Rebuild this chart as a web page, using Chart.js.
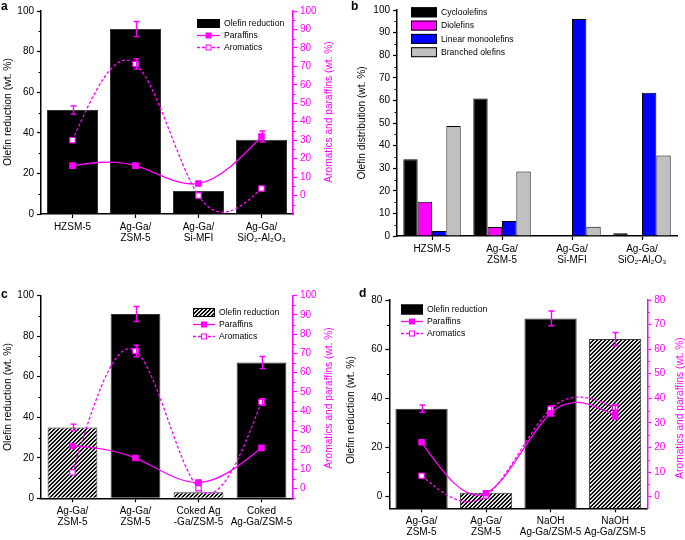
<!DOCTYPE html>
<html><head><meta charset="utf-8">
<script src="https://cdn.jsdelivr.net/npm/chart.js@4.4.0/dist/chart.umd.min.js"></script>
<style>html,body{margin:0;padding:0;background:#fff;overflow:hidden}
#wrap{position:relative;width:685px;height:540px}
canvas{position:absolute}</style></head>
<body><div id="wrap">
<canvas id="ca" width="342" height="270" style="left:0;top:0;width:342px;height:270px"></canvas>
<canvas id="cb" width="343" height="270" style="left:342px;top:0;width:343px;height:270px"></canvas>
<canvas id="cc" width="342" height="270" style="left:0;top:270px;width:342px;height:270px"></canvas>
<canvas id="cd" width="343" height="270" style="left:342px;top:270px;width:343px;height:270px"></canvas>
</div>
<script>
// ---------------- DATA ----------------
// Panel a
const catsA = [['HZSM-5'], ['Ag-Ga/', 'ZSM-5'], ['Ag-Ga/', 'Si-MFI'], ['Ag-Ga/', 'SiO₂-Al₂O₃']];
const olefinA = [51.2, 91.1, 11.3, 36.6];
const olefinErrA = [2, 3.7, 0, 0];
const paraffinsA = [16.2, 16.2, 6.5, 32];
const paraffinsErrA = [0, 0, 0, 3];
const aromaticsA = [30, 71.3, 0, 3.8];
const aromaticsErrA = [0, 2.8, 0, 0];
const leftTicksA = [0, 20, 40, 60, 80, 100];
const rightTicksA = [0, 10, 20, 30, 40, 50, 60, 70, 80, 90, 100];

// Panel b
const catsB = [['HZSM-5'], ['Ag-Ga/', 'ZSM-5'], ['Ag-Ga/', 'Si-MFI'], ['Ag-Ga/', 'SiO₂-Al₂O₃']];
const cycloB = [34, 60.8, 0, 1.2];
const dioB = [15.2, 4, 0, 0];
const linearB = [2.2, 6.6, 96, 63.4];
const branchedB = [48.7, 28.5, 4.1, 35.6];
const leftTicksB = [0, 10, 20, 30, 40, 50, 60, 70, 80, 90, 100];

// Panel c
const catsC = [['Ag-Ga/', 'ZSM-5'], ['Ag-Ga/', 'ZSM-5'], ['Coked Ag', '-Ga/ZSM-5'], ['Coked', 'Ag-Ga/ZSM-5']];
const olefinC = [35, 91, 3, 67];
const olefinErrC = [1.6, 3.7, 0, 3];
const paraffinsC = [22, 15.7, 3, 21];
const paraffinsErrC = [0, 0, 0, 0];
const aromaticsC = [8.3, 71.3, 0, 44.8];
const aromaticsErrC = [0, 3, 0, 1.7];
const leftTicksC = [0, 20, 40, 60, 80, 100];
const rightTicksC = [0, 10, 20, 30, 40, 50, 60, 70, 80, 90, 100];

// Panel d
const catsD = [['Ag-Ga/', 'ZSM-5'], ['Ag-Ga/', 'ZSM-5'], ['NaOH', 'Ag-Ga/ZSM-5'], ['NaOH', 'Ag-Ga/ZSM-5']];
const olefinD = [35.8, 1.6, 72.5, 64.1];
const olefinErrD = [1.5, 0, 3, 2.7];
const paraffinsD = [22.1, 1.4, 33.9, 33];
const paraffinsErrD = [0, 0, 1, 1.5];
const aromaticsD = [8.5, 0.4, 35.6, 36.2];
const aromaticsErrD = [0, 0, 1.3, 1];
const leftTicksD = [0, 20, 40, 60, 80];
const rightTicksD = [0, 10, 20, 30, 40, 50, 60, 70, 80];

// ---------------- STYLE ----------------
const MAG = '#ff00ff';
const FONT = "'Liberation Sans', Arial, Helvetica, sans-serif";
Chart.defaults.font.family = FONT;
Chart.defaults.font.size = 10;
Chart.defaults.color = '#000';
Chart.defaults.animation = false;

function makeHatch() {
  const c = document.createElement('canvas'); c.width = 4; c.height = 4;
  const g = c.getContext('2d');
  const img = g.createImageData(4, 4);
  for (let y = 0; y < 4; y++) for (let x = 0; x < 4; x++) {
    const k = (y * 4 + x) * 4; const on = ((x + y) % 4) < 2;
    const v = on ? 15 : 225;
    img.data[k] = img.data[k + 1] = img.data[k + 2] = v; img.data[k + 3] = 255;
  }
  g.putImageData(img, 0, 0);
  return g.createPattern(c, 'repeat');
}
const HATCH = makeHatch();

// natural cubic spline through line points (control points fed to Chart.js's own bezier line)
const splinePlugin = {
  id: 'natspline',
  beforeDatasetDraw(chart, args) {
    const meta = args.meta;
    if (meta.type !== 'line') return;
    const pts = meta.data; const n = pts.length;
    if (n < 3) return;
    const x = pts.map(p => p.x), y = pts.map(p => p.y);
    const h = []; for (let i = 0; i < n - 1; i++) h.push(x[i + 1] - x[i]);
    const a = new Array(n).fill(0), b = new Array(n).fill(0), c = new Array(n).fill(0), d = new Array(n).fill(0);
    b[0] = 1; b[n - 1] = 1;
    for (let i = 1; i < n - 1; i++) {
      a[i] = h[i - 1]; b[i] = 2 * (h[i - 1] + h[i]); c[i] = h[i];
      d[i] = 6 * ((y[i + 1] - y[i]) / h[i] - (y[i] - y[i - 1]) / h[i - 1]);
    }
    for (let i = 1; i < n; i++) { const m = a[i] / b[i - 1]; b[i] -= m * c[i - 1]; d[i] -= m * d[i - 1]; }
    const M = new Array(n); M[n - 1] = d[n - 1] / b[n - 1];
    for (let i = n - 2; i >= 0; i--) M[i] = (d[i] - c[i] * M[i + 1]) / b[i];
    for (let i = 0; i < n - 1; i++) {
      const hi = h[i];
      const s0 = (y[i + 1] - y[i]) / hi - hi * (2 * M[i] + M[i + 1]) / 6;
      const s1 = (y[i + 1] - y[i]) / hi + hi * (M[i] + 2 * M[i + 1]) / 6;
      pts[i].cp2x = x[i] + hi / 3; pts[i].cp2y = y[i] + s0 * hi / 3;
      pts[i + 1].cp1x = x[i + 1] - hi / 3; pts[i + 1].cp1y = y[i + 1] - s1 * hi / 3;
    }
    pts[0].cp1x = pts[0].x; pts[0].cp1y = pts[0].y;
    pts[n - 1].cp2x = pts[n - 1].x; pts[n - 1].cp2y = pts[n - 1].y;
    meta.dataset._pointsUpdated = true;
  }
};

// error bars + minor ticks
const extras = {
  id: 'extras',
  afterDatasetsDraw(chart) {
    const ctx = chart.ctx;
    chart.data.datasets.forEach((ds, i) => {
      if (!ds.errors) return;
      const meta = chart.getDatasetMeta(i);
      const ys = chart.scales[meta.yAxisID];
      meta.data.forEach((el, j) => {
        const e = ds.errors[j]; if (!e) return;
        const v = ds.data[j];
        const x = Math.round(el.x) + 0.5;
        const y1 = ys.getPixelForValue(v + e), y2 = ys.getPixelForValue(v - e);
        ctx.save(); ctx.strokeStyle = MAG; ctx.lineWidth = 1.4;
        ctx.beginPath();
        ctx.moveTo(x, y1); ctx.lineTo(x, y2);
        ctx.moveTo(x - 3, y1); ctx.lineTo(x + 3, y1);
        ctx.moveTo(x - 3, y2); ctx.lineTo(x + 3, y2);
        ctx.stroke(); ctx.restore();
      });
    });
  },
  afterDraw(chart) {
    const ctx = chart.ctx;
    Object.values(chart.scales).forEach(s => {
      const st = s.options.minorStep; if (!st || s.axis !== 'y') return;
      const major = s.options.ticks.stepSize;
      const col = s.options.border.color;
      ctx.save(); ctx.strokeStyle = col; ctx.lineWidth = 1;
      const left = s.position === 'left';
      const x0 = left ? s.right : s.left;
      const dir = left ? -1 : 1;
      for (let v = Math.ceil(s.min / st) * st; v <= s.max + 1e-9; v += st) {
        if (Math.abs(v / major - Math.round(v / major)) < 1e-6) continue;
        const y = Math.round(s.getPixelForValue(v)) + 0.5;
        ctx.beginPath(); ctx.moveTo(x0, y); ctx.lineTo(x0 + dir * 2.5, y); ctx.stroke();
      }
      ctx.restore();
    });
  }
};

function decor(o) {
  return {
    id: 'decor',
    afterDraw(chart) {
      const ctx = chart.ctx;
      ctx.save();
      ctx.font = 'bold 12px ' + FONT;
      ctx.fillStyle = '#000'; ctx.textAlign = 'left'; ctx.textBaseline = 'top';
      ctx.fillText(o.letter, o.letterX, o.letterY);
      ctx.textAlign = 'center'; ctx.textBaseline = 'middle';
      o.titles.forEach(t => {
        ctx.save(); ctx.translate(t.x, t.y); ctx.rotate(-Math.PI / 2);
        ctx.font = (t.size || 10) + 'px ' + FONT;
        ctx.fillStyle = t.color; ctx.fillText(t.text, 0, 0); ctx.restore();
      });
      const L = o.legend;
      ctx.textAlign = 'left';
      ctx.font = '8.6px ' + FONT;
      L.items.forEach((it, i) => {
        const cy = L.y + i * L.row, x = L.x;
        const ds = chart.data.datasets[it.ds];
        if (it.fill) {
          ctx.fillStyle = it.fill; ctx.fillRect(x, cy - L.boxH / 2, L.boxW, L.boxH);
          ctx.strokeStyle = '#000'; ctx.lineWidth = 1;
          ctx.strokeRect(x + 0.5, cy - L.boxH / 2 + 0.5, L.boxW - 1, L.boxH - 1);
        } else {
          ctx.strokeStyle = ds.borderColor; ctx.lineWidth = ds.borderWidth;
          ctx.setLineDash(ds.borderDash || []);
          ctx.beginPath(); ctx.moveTo(x, cy); ctx.lineTo(x + L.boxW, cy); ctx.stroke();
          ctx.setLineDash([]);
          const s = 5;
          ctx.fillStyle = ds.pointBackgroundColor;
          ctx.fillRect(x + L.boxW / 2 - s / 2, cy - s / 2, s, s);
          ctx.strokeStyle = ds.pointBorderColor; ctx.lineWidth = 1;
          ctx.strokeRect(x + L.boxW / 2 - s / 2, cy - s / 2, s, s);
        }
        ctx.fillStyle = '#000'; ctx.fillText(ds.label, x + L.boxW + L.gap, cy + 0.5);
      });
      ctx.restore();
    }
  };
}

function yAxis(pos, min, max, step, color, width, minorStep, allowed) {
  return {
    position: pos, min: min, max: max, minorStep: minorStep,
    afterBuildTicks: s => { s.ticks = allowed.map(v => ({ value: v })); },
    afterFit: s => { s.width = width; },
    ticks: { stepSize: step, color: color, padding: 3, font: { size: 10, family: FONT } },
    grid: { drawOnChartArea: false, drawTicks: true, tickLength: 4, color: color, tickColor: color, tickWidth: 1.2 },
    border: { display: true, color: color, width: 1.5 }
  };
}
function xAxis(height) {
  return {
    type: 'category', offset: true,
    afterFit: s => { s.height = height; },
    ticks: { autoSkip: false, maxRotation: 0, minRotation: 0, padding: 3, color: '#000', font: { size: 10, family: FONT, lineHeight: 1.15 } },
    grid: { offset: false, drawOnChartArea: false, tickLength: 4, color: '#000', tickWidth: 1.2 },
    border: { display: true, color: '#000', width: 1.5 }
  };
}
function lineDS(label, data, errors, dashed) {
  return {
    type: 'line', label: label, data: data, errors: errors, yAxisID: 'y2', order: 0,
    borderColor: MAG, borderWidth: 1.3, borderDash: dashed ? [3, 2] : [],
    tension: 0.4, fill: false,
    pointStyle: 'rect', pointRadius: 3.8,
    pointBackgroundColor: dashed ? '#fff' : MAG, pointBorderColor: MAG, pointBorderWidth: 1.2
  };
}
function barDS(label, data, errors, fills, base, pct) {
  return {
    type: 'bar', label: label, data: data, errors: errors, yAxisID: 'y', order: 1,
    backgroundColor: fills, borderColor: '#333', borderWidth: 1,
    barPercentage: pct, categoryPercentage: 1, base: base
  };
}

// ---------------- PANEL A ----------------
new Chart(document.getElementById('ca'), {
  data: {
    labels: catsA,
    datasets: [
      barDS('Olefin reduction', olefinA, olefinErrA, '#000', 0, 0.81),
      lineDS('Paraffins', paraffinsA, paraffinsErrA, false),
      lineDS('Aromatics', aromaticsA, aromaticsErrA, true)
    ]
  },
  options: {
    responsive: false, devicePixelRatio: 1,
    layout: { padding: { top: 11, left: 0, right: 0, bottom: 0 } },
    plugins: { legend: { display: false }, tooltip: { enabled: false } },
    scales: {
      x: xAxis(56),
      y: yAxis('left', 0, 100, 20, '#000', 41, 10, leftTicksA),
      y2: yAxis('right', -10, 100, 10, MAG, 49, 5, rightTicksA)
    }
  },
  plugins: [splinePlugin, extras, decor({
    letter: 'a', letterX: 1, letterY: 1,
    titles: [{ text: 'Olefin reduction (wt. %)', x: 8, y: 112, color: '#000', size: 10.4 },
             { text: 'Aromatics and paraffins (wt. %)', x: 329, y: 112, color: MAG, size: 10.2 }],
    legend: { x: 197, y: 23.5, row: 12, boxW: 23, boxH: 9, gap: 4,
      items: [{ ds: 0, fill: '#000' }, { ds: 1 }, { ds: 2 }] }
  })]
});

// ---------------- PANEL B ----------------
function bDS(label, data, color) {
  return { type: 'bar', label: label, data: data, backgroundColor: color, borderColor: '#000', borderWidth: 1,
    barPercentage: 1, categoryPercentage: 0.82 };
}
new Chart(document.getElementById('cb'), {
  data: {
    labels: catsB,
    datasets: [
      bDS('Cycloolefins', cycloB, '#000'),
      bDS('Diolefins', dioB, MAG),
      bDS('Linear monoolefins', linearB, '#0000ff'),
      bDS('Branched olefins', branchedB, '#c0c0c0')
    ]
  },
  options: {
    responsive: false, devicePixelRatio: 1,
    layout: { padding: { top: 10, left: 0, right: 8, bottom: 0 } },
    plugins: { legend: { display: false }, tooltip: { enabled: false } },
    scales: {
      x: xAxis(34),
      y: yAxis('left', 0, 100, 10, '#000', 55, 5, leftTicksB)
    }
  },
  plugins: [extras, decor({
    letter: 'b', letterX: 9, letterY: 1,
    titles: [{ text: 'Olefin distribution (wt. %)', x: 20, y: 123, color: '#000', size: 10.2 }],
    legend: { x: 69, y: 12.3, row: 13.3, boxW: 26, boxH: 10, gap: 4,
      items: [{ ds: 0, fill: '#000' }, { ds: 1, fill: MAG }, { ds: 2, fill: '#0000ff' }, { ds: 3, fill: '#c0c0c0' }] }
  })]
});

// ---------------- PANEL C ----------------
new Chart(document.getElementById('cc'), {
  data: {
    labels: catsC,
    datasets: [
      barDS('Olefin reduction', olefinC, olefinErrC, [HATCH, '#000', HATCH, '#000'], 0, 0.79),
      lineDS('Paraffins', paraffinsC, paraffinsErrC, false),
      lineDS('Aromatics', aromaticsC, aromaticsErrC, true)
    ]
  },
  options: {
    responsive: false, devicePixelRatio: 1,
    layout: { padding: { top: 25.7, left: 0, right: 0, bottom: 0 } },
    plugins: { legend: { display: false }, tooltip: { enabled: false } },
    scales: {
      x: xAxis(41.7),
      y: yAxis('left', 0, 100, 20, '#000', 41, 10, leftTicksC),
      y2: yAxis('right', -5.2, 100, 10, MAG, 49, 5, rightTicksC)
    }
  },
  plugins: [splinePlugin, extras, decor({
    letter: 'c', letterX: 1, letterY: 19,
    titles: [{ text: 'Olefin reduction (wt. %)', x: 8, y: 127, color: '#000', size: 10.4 },
             { text: 'Aromatics and paraffins (wt. %)', x: 329, y: 128, color: MAG, size: 10.2 }],
    legend: { x: 193, y: 42.5, row: 12, boxW: 22, boxH: 9, gap: 4,
      items: [{ ds: 0, fill: HATCH }, { ds: 1 }, { ds: 2 }] }
  })]
});

// ---------------- PANEL D ----------------
new Chart(document.getElementById('cd'), {
  data: {
    labels: catsD,
    datasets: [
      barDS('Olefin reduction', olefinD, olefinErrD, ['#000', HATCH, '#000', HATCH], -4.75, 0.81),
      lineDS('Paraffins', paraffinsD, paraffinsErrD, false),
      lineDS('Aromatics', aromaticsD, aromaticsErrD, true)
    ]
  },
  options: {
    responsive: false, devicePixelRatio: 1,
    layout: { padding: { top: 30, left: 0, right: 0, bottom: 0 } },
    plugins: { legend: { display: false }, tooltip: { enabled: false } },
    scales: {
      x: xAxis(31.7),
      y: yAxis('left', -4.75, 80, 20, '#000', 47.3, 10, leftTicksD),
      y2: yAxis('right', -4.75, 80, 10, MAG, 37.7, 5, rightTicksD)
    }
  },
  plugins: [splinePlugin, extras, decor({
    letter: 'd', letterX: 17, letterY: 18,
    titles: [{ text: 'Olefin reduction (wt. %)', x: 9, y: 140, color: '#000', size: 10.4 },
             { text: 'Aromatics and paraffins (wt. %)', x: 338, y: 138, color: MAG, size: 10.2 }],
    legend: { x: 59, y: 39.5, row: 12, boxW: 22, boxH: 10, gap: 4,
      items: [{ ds: 0, fill: '#000' }, { ds: 1 }, { ds: 2 }] }
  })]
});
</script></body></html>
